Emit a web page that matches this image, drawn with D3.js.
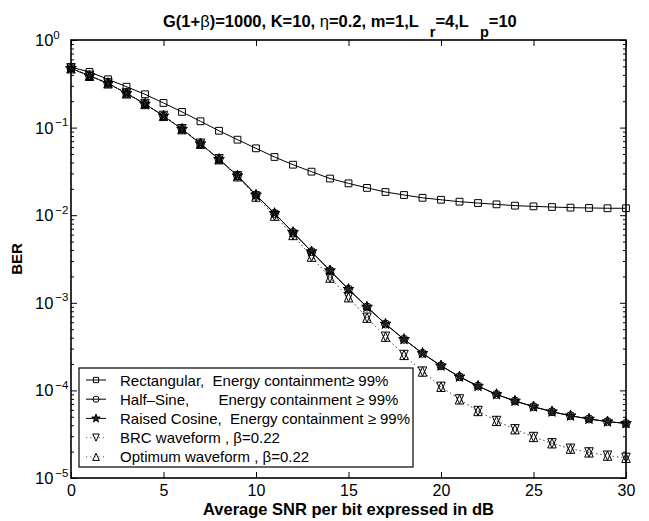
<!DOCTYPE html>
<html>
<head>
<meta charset="utf-8">
<script src="https://cdn.jsdelivr.net/npm/d3@7"></script>
<style>
  body { margin: 0; background: #fff; }
  svg { display: block; font-family: "Liberation Sans", Arial, Helvetica, sans-serif; }
</style>
</head>
<body>
<svg id="chart" width="649" height="521"></svg>
<script>
// SNR per bit (dB)
const snr = [0,1,2,3,4,5,6,7,8,9,10,11,12,13,14,15,16,17,18,19,20,21,22,23,24,25,26,27,28,29,30];

// Bit error rate for each pulse shape
const berRect = [0.49,0.432,0.356,0.293,0.24,0.191,0.151,0.118,0.092,0.0728,0.058,0.0462,0.0377,0.0314,0.0262,
  0.0231,0.0205,0.0184,0.017,0.0158,0.0150,0.01426,0.01377,0.0133,0.01285,0.01262,0.0124,0.0122,0.0121,0.0120,0.0120];
const berHalfSine = [0.475,0.39,0.32,0.246,0.186,0.136,0.096,0.0655,0.0435,0.0282,0.017,0.0105,0.00638,0.00384,0.00233,
  0.00143,0.000895,0.000573,0.000383,0.000265,0.000191,0.000143,0.000112,9.0e-5,7.57e-5,6.52e-5,5.71e-5,5.14e-5,4.72e-5,4.4e-5,4.2e-5];
const berRaisedCos = [0.475,0.39,0.32,0.246,0.186,0.136,0.096,0.0655,0.0435,0.0282,0.017,0.0105,0.00638,0.00384,0.00233,
  0.00143,0.000895,0.000573,0.000383,0.000265,0.000191,0.000143,0.000112,9.0e-5,7.57e-5,6.52e-5,5.71e-5,5.14e-5,4.72e-5,4.4e-5,4.2e-5];
const berBRC = [0.475,0.39,0.32,0.246,0.186,0.136,0.096,0.0655,0.0435,0.0278,0.0163,0.00988,0.00594,0.00336,0.00194,
  0.001156,0.000676,0.00041,0.000254,0.000164,0.00011,7.9e-5,5.82e-5,4.48e-5,3.6e-5,2.94e-5,2.49e-5,2.16e-5,1.96e-5,1.8e-5,1.7e-5];
const berOptimum = [0.475,0.39,0.32,0.246,0.186,0.136,0.096,0.0655,0.0435,0.0278,0.0163,0.00988,0.00594,0.00336,0.00194,
  0.001156,0.000676,0.00041,0.000254,0.000164,0.00011,7.9e-5,5.82e-5,4.48e-5,3.6e-5,2.94e-5,2.49e-5,2.16e-5,1.96e-5,1.8e-5,1.7e-5];

// Axis ticks
const xTicks = [0,5,10,15,20,25,30];
const yExponents = [0,-1,-2,-3,-4,-5];

// Legend text
const legendLabels = [
  "Rectangular,  Energy containment\u2265 99%",
  "Half\u2013Sine,       Energy containment \u2265 99%",
  "Raised Cosine,  Energy containment \u2265 99%",
  "BRC waveform , \u03B2=0.22",
  "Optimum waveform , \u03B2=0.22"
];

const svg = d3.select("#chart");
const plot = { left: 71, right: 626, top: 40, bottom: 478 };

const x = d3.scaleLinear().domain([0, 30]).range([plot.left, plot.right]);
const y = d3.scaleLog().domain([1e-5, 1]).range([plot.bottom, plot.top]);

// Marker shapes (centred triangles so up/down overlay as an hourglass)
const triUp = { draw(ctx, size) { const s = Math.sqrt(size); ctx.moveTo(0, -s*0.55); ctx.lineTo(s*0.5, s*0.55); ctx.lineTo(-s*0.5, s*0.55); ctx.closePath(); } };
const triDown = { draw(ctx, size) { const s = Math.sqrt(size); ctx.moveTo(0, s*0.55); ctx.lineTo(s*0.5, -s*0.55); ctx.lineTo(-s*0.5, -s*0.55); ctx.closePath(); } };

const series = [
  { values: berRect,      symbol: d3.symbolSquare, size: 46, fill: "none",  dash: null,    lineColor: "#000" },
  { values: berHalfSine,  symbol: d3.symbolCircle, size: 50, fill: "none",  dash: null,    lineColor: "#000" },
  { values: berRaisedCos, symbol: d3.symbolStar,   size: 36, fill: "#222",  dash: null,    lineColor: "#000" },
  { values: berBRC,       symbol: triDown,         size: 72, fill: "none",  dash: "1.2,3", lineColor: "#666" },
  { values: berOptimum,   symbol: triUp,           size: 72, fill: "none",  dash: "1.2,3", lineColor: "#666" }
];

// Ticks (inside the frame)
const tickStyle = g => {
  g.select(".domain").remove();
  g.selectAll(".tick line").attr("stroke", "#000").attr("stroke-width", 1);
};

svg.append("g").attr("transform", `translate(0,${plot.bottom})`)
  .call(d3.axisBottom(x).tickValues(xTicks).tickSizeInner(-6).tickSizeOuter(0).tickPadding(7))
  .call(tickStyle)
  .call(g => g.selectAll(".tick text").attr("font-size", 16).attr("fill", "#000")
    .attr("font-family", "Liberation Sans, Arial, sans-serif"));

svg.append("g").attr("transform", `translate(0,${plot.top})`)
  .call(d3.axisTop(x).tickValues(xTicks).tickSizeInner(-6).tickSizeOuter(0).tickFormat(""))
  .call(tickStyle);

const majorY = yExponents.map(e => Math.pow(10, e));
const minorY = [];
yExponents.slice(1).forEach(e => { for (let k = 2; k <= 9; k++) minorY.push(k * Math.pow(10, e)); });

svg.append("g").attr("transform", `translate(${plot.left},0)`)
  .call(d3.axisLeft(y).tickValues(majorY).tickSizeInner(-6).tickSizeOuter(0).tickFormat(""))
  .call(tickStyle);
svg.append("g").attr("transform", `translate(${plot.left},0)`)
  .call(d3.axisLeft(y).tickValues(minorY).tickSizeInner(-3).tickSizeOuter(0).tickFormat(""))
  .call(tickStyle);
svg.append("g").attr("transform", `translate(${plot.right},0)`)
  .call(d3.axisRight(y).tickValues(majorY).tickSizeInner(-6).tickSizeOuter(0).tickFormat(""))
  .call(tickStyle);
svg.append("g").attr("transform", `translate(${plot.right},0)`)
  .call(d3.axisRight(y).tickValues(minorY).tickSizeInner(-3).tickSizeOuter(0).tickFormat(""))
  .call(tickStyle);

// Y tick labels as powers of ten
const yLab = svg.append("g").selectAll("text").data(yExponents).join("text")
  .attr("x", 35).attr("y", e => y(Math.pow(10, e)) + 6)
  .attr("font-size", 16.5).attr("fill", "#000");
yLab.append("tspan").text("10");
yLab.append("tspan").attr("dx", e => e === 0 ? 0 : 2).attr("dy", -7.5).attr("font-size", 11.5)
  .text(e => e === 0 ? "0" : "\u2212" + Math.abs(e));

// Curves and markers
const line = d3.line().x((d, i) => x(snr[i])).y(d => y(d));
series.forEach(s => {
  svg.append("path").datum(s.values)
    .attr("d", line).attr("fill", "none")
    .attr("stroke", s.lineColor).attr("stroke-width", 1)
    .attr("stroke-dasharray", s.dash);
});
series.forEach(s => {
  svg.append("g").selectAll("path").data(s.values).join("path")
    .attr("transform", (d, i) => `translate(${x(snr[i])},${y(d)})`)
    .attr("d", d3.symbol(s.symbol, s.size))
    .attr("fill", s.fill).attr("stroke", "#000").attr("stroke-width", 1);
});

// Frame
svg.append("rect")
  .attr("x", plot.left).attr("y", plot.top)
  .attr("width", plot.right - plot.left).attr("height", plot.bottom - plot.top)
  .attr("fill", "none").attr("stroke", "#000").attr("stroke-width", 1.6);

// Legend
const lg = svg.append("g");
lg.append("rect").attr("x", 79).attr("y", 368).attr("width", 334).attr("height", 99)
  .attr("fill", "#fff").attr("stroke", "#000").attr("stroke-width", 1.2);
const rows = lg.selectAll("g.row").data(series).join("g").attr("class", "row")
  .attr("transform", (d, i) => `translate(0,${380 + i * 19.2})`);
rows.append("line").attr("x1", 86).attr("x2", 106).attr("y1", 0).attr("y2", 0)
  .attr("stroke", d => d.lineColor).attr("stroke-width", 1).attr("stroke-dasharray", d => d.dash);
rows.append("path").attr("transform", "translate(96,0)")
  .attr("d", d => d3.symbol(d.symbol, d.size * 0.6)())
  .attr("fill", d => d.fill).attr("stroke", "#000").attr("stroke-width", 1);
rows.append("text").attr("x", 120).attr("y", 5.5).attr("font-size", 15).attr("fill", "#000")
  .style("white-space", "pre").text((d, i) => legendLabels[i]);

// Title
const title = svg.append("text").attr("x", 163).attr("y", 27)
  .attr("font-size", 16.5).attr("font-weight", "bold").attr("fill", "#000");
title.append("tspan").text("G(1+");
title.append("tspan").attr("font-weight", "normal").text("\u03B2");
title.append("tspan").text(")=1000, K=10, ");
title.append("tspan").attr("font-weight", "normal").text("\u03B7");
title.append("tspan").text("=0.2, m=1,L");
title.append("tspan").attr("dx", 11).attr("dy", 10).attr("font-size", 14.5).text("r");
title.append("tspan").attr("dy", -10).text("=4,L");
title.append("tspan").attr("dx", 11).attr("dy", 10).attr("font-size", 14.5).text("p");
title.append("tspan").attr("dy", -10).text("=10");

// Axis titles
svg.append("text").attr("x", (plot.left + plot.right) / 2).attr("y", 515)
  .attr("text-anchor", "middle").attr("font-size", 16.5).attr("font-weight", "bold")
  .text("Average SNR per bit expressed in dB");
svg.append("text").attr("transform", `translate(22,${(plot.top + plot.bottom) / 2}) rotate(-90)`)
  .attr("text-anchor", "middle").attr("font-size", 15).attr("font-weight", "bold")
  .text("BER");
</script>
</body>
</html>
